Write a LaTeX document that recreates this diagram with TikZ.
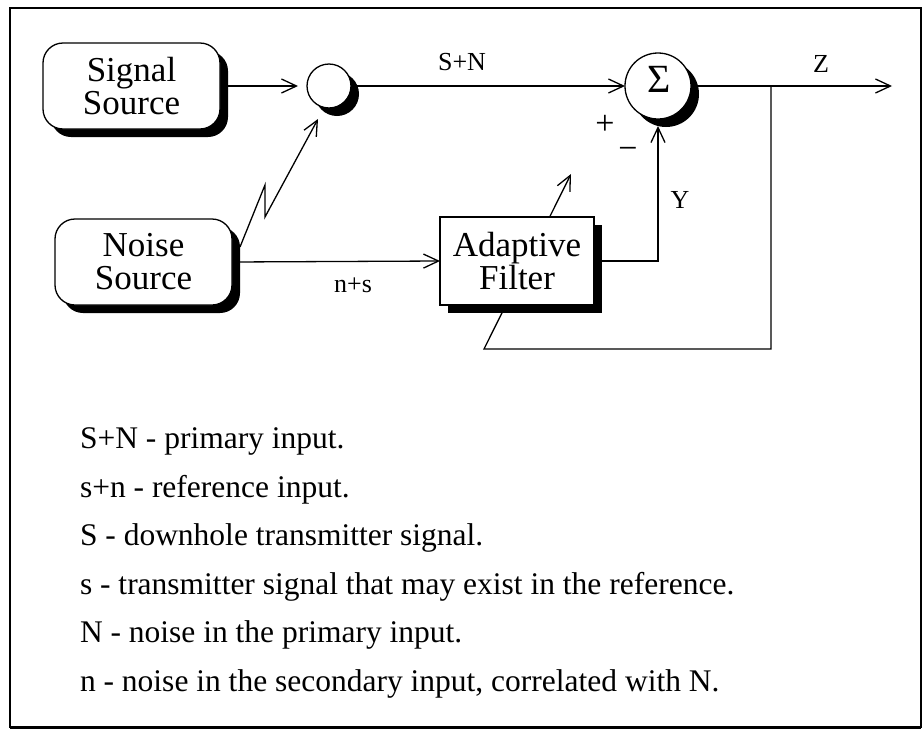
\documentclass[tikz,border=0pt]{standalone}
\usepackage{fontspec}
\setmainfont{Liberation Serif}
\usetikzlibrary{arrows.meta,shadows,backgrounds}
\begin{document}
\begin{tikzpicture}[x=1pt,y=-1pt,
  every node/.style={inner sep=0pt,outer sep=0pt},
  shad/.style={drop shadow={shadow xshift=8pt,shadow yshift=-8pt,opacity=1,fill=black}},
  srcbox/.style={draw,fill=white,line width=1.3pt,rounded corners=20pt,minimum width=177pt,minimum height=86pt,align=center,font=\fontsize{35}{33}\selectfont,shad},
  filtbox/.style={draw,fill=white,line width=1.3pt,minimum width=154pt,minimum height=88pt,align=center,font=\fontsize{35}{33}\selectfont,shad},
  circ/.style={draw,fill=white,circle,line width=1.3pt,shad},
  lbl/.style={font=\fontsize{26}{26}\selectfont},
  pm/.style={font=\fontsize{34}{34}\selectfont},
  leg/.style={anchor=base west,font=\fontsize{31.5}{32}\selectfont},
  conn/.style={line width=1.3pt},
  arr/.style={conn,-{Straight Barb[length=15pt,width=14pt]}},
]
\useasboundingbox (0,0) rectangle (924,734);
\draw[line width=1.3pt] (10,8) rectangle (921,727);
\draw[line width=3pt] (10,727) -- (921,727);

\node[srcbox] (sig) at (131.5,86) {Signal\\Source};
\node[srcbox] (noise) at (143.5,262) {Noise\\Source};
\node[circ,minimum size=44pt] (mix) at (329,86) {};
\node[circ,minimum size=66pt] (sum) at (658,86) {};
\node[font=\fontsize{40}{40}\selectfont] (sigma) at (659,79) {Σ};
\node[filtbox] (filt) at (517,261) {Adaptive\\Filter};

\node[lbl] (lSN) at (462,62) {S+N};
\node[lbl] (lZ) at (821,64) {Z};
\node[lbl] (lY) at (680,200) {Y};
\node[lbl] (lns) at (353,285) {n+s};
\node[pm] (lplus) at (605,125) {+};
\node[pm] (lminus) at (628,153) {−};

\coordinate (zend) at (892,86);
\coordinate (junc) at (771,86);
\coordinate (fbc) at (484,349);
\coordinate (adapt) at (571,174);
\coordinate (lz1) at (240,247);
\coordinate (lz2) at (265,185);
\coordinate (lz3) at (265,217);
\coordinate (mixin) at (318,119);
\coordinate (sumin) at (658,126);

\begin{pgfonlayer}{background}
\draw[arr] (sig.east) -- ([xshift=-9pt]mix.west);
\draw[arr] (mix.east) -- (sum.west);
\draw[arr] (sum.east) -- (zend);
\draw[arr] (junc) |- (fbc) -- (adapt);
\draw[arr] (noise.east) -- (filt.west);
\draw[arr] (filt.east) -| (sumin);
\draw[arr] (lz1) -- (lz2) -- (lz3) -- (mixin);
\end{pgfonlayer}

\node[leg] (t1) at (80,448) {S+N - primary input.};
\node[leg] (t2) at (80,497) {s+n - reference input.};
\node[leg] (t3) at (80,545) {S - downhole transmitter signal.};
\node[leg] (t4) at (80,594) {s - transmitter signal that may exist in the reference.};
\node[leg] (t5) at (80,642) {N - noise in the primary input.};
\node[leg] (t6) at (80,691) {n - noise in the secondary input, correlated with N.};
\end{tikzpicture}
\end{document}
